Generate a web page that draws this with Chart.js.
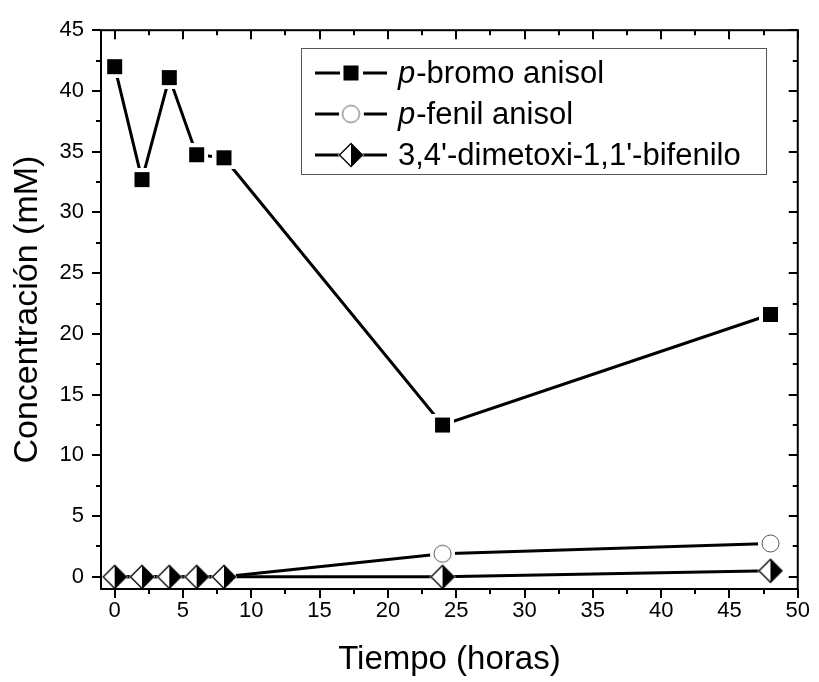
<!DOCTYPE html>
<html>
<head>
<meta charset="utf-8">
<script src="https://cdn.jsdelivr.net/npm/chart.js@4/dist/chart.umd.min.js"></script>
<style>
  html, body { margin: 0; padding: 0; background: #fff; }
  #wrap { width: 819px; height: 682px; }
</style>
</head>
<body>
<div id="wrap"><canvas id="myChart" width="819" height="682"></canvas></div>
<script>
// tiempo de muestreo (horas)
const tiempos = [0, 2, 4, 6, 8, 24, 48];

// concentraciones (mM)
const bromoAnisol = [42.0, 32.7, 41.1, 34.75, 34.5, 12.5, 21.6];
const fenilAnisol = [0, 0, 0, 0, 0, 1.9, 2.75];
const dimetoxiBifenilo = [0, 0, 0, 0, 0, 0, 0.5];

const xTicks = [0, 5, 10, 15, 20, 25, 30, 35, 40, 45, 50];
const yTicks = [0, 5, 10, 15, 20, 25, 30, 35, 40, 45];

const FONT = "'Liberation Sans', Arial, sans-serif";

// marcadores con un halo blanco para que la línea se corte antes del símbolo
function squareMarker() {
    const s = 15, pad = 4, n = s + pad * 2;
    const c = document.createElement('canvas');
    c.width = n; c.height = n;
    const g = c.getContext('2d');
    g.fillStyle = '#fff';
    g.fillRect(0, 0, n, n);
    g.fillStyle = '#000';
    g.fillRect(pad, pad, s, s);
    return c;
}

function circleMarker() {
    const r = 8.5, pad = 4, n = Math.ceil((r + pad) * 2);
    const c = document.createElement('canvas');
    c.width = n; c.height = n;
    const g = c.getContext('2d');
    g.fillStyle = '#fff';
    g.beginPath(); g.arc(n / 2, n / 2, r + pad, 0, Math.PI * 2); g.fill();
    g.strokeStyle = '#555';
    g.lineWidth = 1;
    g.beginPath(); g.arc(n / 2, n / 2, r, 0, Math.PI * 2); g.stroke();
    return c;
}

function diamondMarker() {
    const h = 11.5, halo = 13, n = 30;
    const c = document.createElement('canvas');
    c.width = n; c.height = n;
    const g = c.getContext('2d');
    const m = n / 2;
    g.fillStyle = '#fff';
    g.beginPath();
    g.moveTo(m, m - halo - 1); g.lineTo(m + halo, m); g.lineTo(m, m + halo + 1); g.lineTo(m - halo, m);
    g.closePath(); g.fill();
    // mitad derecha rellena
    g.fillStyle = '#000';
    g.beginPath();
    g.moveTo(m, m - h); g.lineTo(m + h, m); g.lineTo(m, m + h);
    g.closePath(); g.fill();
    g.strokeStyle = '#000';
    g.lineWidth = 1.3;
    g.beginPath();
    g.moveTo(m, m - h); g.lineTo(m + h, m); g.lineTo(m, m + h); g.lineTo(m - h, m);
    g.closePath(); g.stroke();
    return c;
}

const mkSquare = squareMarker();
const mkCircle = circleMarker();
const mkDiamond = diamondMarker();

function toPoints(ys) {
    return tiempos.map((t, i) => ({ x: t, y: ys[i] }));
}

// marco, marcas de los ejes y leyenda
const framePlugin = {
    id: 'frame',
    afterDraw(chart) {
        const ctx = chart.ctx;
        const a = chart.chartArea;
        const xs = chart.scales.x, ys = chart.scales.y;
        ctx.save();
        ctx.strokeStyle = '#000';
        ctx.lineWidth = 2;
        ctx.strokeRect(a.left, a.top, a.right - a.left, a.bottom - a.top);

        ctx.lineWidth = 2;
        ctx.beginPath();
        for (let v = 0; v <= 50; v += 2.5) {
            const px = Math.round(xs.getPixelForValue(v));
            const len = v % 5 === 0 ? 9 : 5;
            ctx.moveTo(px, a.bottom); ctx.lineTo(px, a.bottom + len);
            ctx.moveTo(px, a.top); ctx.lineTo(px, a.top + len);
        }
        for (let v = 0; v <= 45; v += 2.5) {
            const py = Math.round(ys.getPixelForValue(v));
            const len = v % 5 === 0 ? 9 : 5;
            ctx.moveTo(a.left, py); ctx.lineTo(a.left - len, py);
            ctx.moveTo(a.right, py); ctx.lineTo(a.right - len, py);
        }
        ctx.stroke();

        // leyenda
        const bx = 301, by = 48, bw = 465, bh = 126;
        ctx.fillStyle = '#fff';
        ctx.fillRect(bx, by, bw, bh);
        ctx.strokeStyle = '#555';
        ctx.lineWidth = 1;
        ctx.strokeRect(bx + 0.5, by + 0.5, bw, bh);

        const rows = [
            { img: mkSquare, italic: 'p', text: '-bromo anisol' },
            { img: mkCircle, italic: 'p', text: '-fenil anisol' },
            { img: mkDiamond, italic: '', text: "3,4'-dimetoxi-1,1'-bifenilo" }
        ];
        rows.forEach((r, i) => {
            const cy = 73 + i * 41;
            ctx.strokeStyle = '#000';
            ctx.lineWidth = 3;
            ctx.beginPath();
            ctx.moveTo(315, cy); ctx.lineTo(387, cy);
            ctx.stroke();
            ctx.drawImage(r.img, 351 - r.img.width / 2, cy - r.img.height / 2);
            ctx.fillStyle = '#000';
            ctx.textBaseline = 'middle';
            let tx = 398;
            if (r.italic) {
                ctx.font = 'italic 31px ' + FONT;
                ctx.fillText(r.italic, tx, cy + 1);
                tx += ctx.measureText(r.italic).width + 1;
            }
            ctx.font = '31px ' + FONT;
            ctx.fillText(r.text, tx, cy + 1);
        });
        ctx.restore();
    }
};

const lineStyle = {
    borderColor: '#000',
    borderWidth: 3,
    pointRadius: 8,
    pointHoverRadius: 8,
    tension: 0,
    fill: false
};

new Chart(document.getElementById('myChart').getContext('2d'), {
    type: 'line',
    data: {
        datasets: [
            Object.assign({ label: 'p-bromo anisol', data: toPoints(bromoAnisol), pointStyle: mkSquare, order: 1 }, lineStyle),
            Object.assign({ label: 'p-fenil anisol', data: toPoints(fenilAnisol), pointStyle: mkCircle, order: 2 }, lineStyle),
            Object.assign({ label: "3,4'-dimetoxi-1,1'-bifenilo", data: toPoints(dimetoxiBifenilo), pointStyle: mkDiamond, order: 0 }, lineStyle)
        ]
    },
    options: {
        responsive: false,
        animation: false,
        events: [],
        layout: { padding: { top: 24, right: 16, left: 0, bottom: 0 } },
        plugins: { legend: { display: false }, tooltip: { enabled: false } },
        scales: {
            x: {
                type: 'linear',
                min: -1,
                max: 50,
                grid: { display: false, drawTicks: false },
                border: { display: false },
                afterBuildTicks: s => { s.ticks = xTicks.map(v => ({ value: v })); },
                afterFit: s => { s.height = 93; },
                ticks: { color: '#000', font: { family: FONT, size: 22 }, padding: 9, maxRotation: 0 },
                title: { display: true, text: 'Tiempo (horas)', color: '#000', font: { family: FONT, size: 33 }, padding: { top: 0, bottom: 2 } }
            },
            y: {
                min: -1,
                max: 45,
                grid: { display: false, drawTicks: false },
                border: { display: false },
                afterBuildTicks: s => { s.ticks = yTicks.map(v => ({ value: v })); },
                afterFit: s => { s.width = 101; },
                ticks: { color: '#000', font: { family: FONT, size: 22 }, padding: 17 },
                title: { display: true, text: 'Concentración (mM)', color: '#000', font: { family: FONT, size: 34 }, padding: { top: 7, bottom: 0 } }
            }
        }
    },
    plugins: [framePlugin]
});
</script>
</body>
</html>
